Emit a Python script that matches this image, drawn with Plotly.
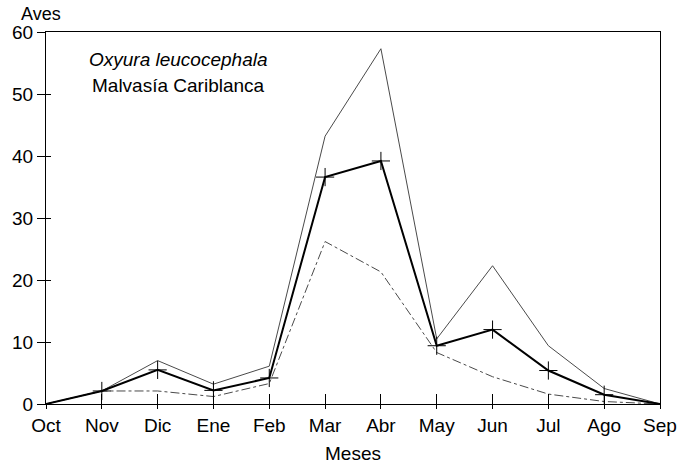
import plotly.graph_objects as go

months = ["Oct", "Nov", "Dic", "Ene", "Feb", "Mar", "Abr", "May", "Jun", "Jul", "Ago", "Sep"]
maximo = [0, 2.1, 7.0, 3.2, 6.1, 43.2, 57.3, 10.5, 22.3, 9.4, 2.5, 0]
media = [0, 2.1, 5.5, 2.2, 4.2, 36.6, 39.2, 9.4, 12.0, 5.4, 1.5, 0]
minimo = [0, 2.1, 2.1, 1.2, 3.3, 26.2, 21.3, 8.3, 4.4, 1.6, 0.4, 0]
y_ticks = [0, 10, 20, 30, 40, 50, 60]

x = list(range(len(months)))
FONT = "Liberation Sans, Arial, sans-serif"

fig = go.Figure()
fig.add_trace(go.Scatter(x=x, y=maximo, mode="lines",
                         line=dict(color="#4a4a4a", width=1), showlegend=False))
fig.add_trace(go.Scatter(x=x, y=minimo, mode="lines",
                         line=dict(color="#4a4a4a", width=1, dash="dashdot"), showlegend=False))
fig.add_trace(go.Scatter(x=x[1:-1], y=media[1:-1], mode="markers",
                         marker=dict(symbol="cross-thin", size=13,
                                     line=dict(color="black", width=1)),
                         showlegend=False))
fig.add_trace(go.Scatter(x=x, y=media, mode="lines",
                         line=dict(color="black", width=2), showlegend=False))
# invisible trace for the overlay axes (inner tick halves)
fig.add_trace(go.Scatter(x=[0], y=[0], xaxis="x2", yaxis="y2", mode="markers",
                         marker=dict(opacity=0), showlegend=False, hoverinfo="skip"))

fig.update_layout(
    width=679, height=464,
    margin=dict(l=46, r=19, t=32, b=60, autoexpand=False),
    paper_bgcolor="white", plot_bgcolor="white",
    font=dict(family=FONT, size=19, color="black"),
    xaxis=dict(range=[0, 11], tickmode="array", tickvals=x, ticktext=months,
               showgrid=False, zeroline=False, showline=True, mirror=True,
               linecolor="black", linewidth=1, ticks="outside", ticklen=4,
               tickcolor="black", tickfont=dict(size=19),
               title=dict(text="Meses", font=dict(size=19), standoff=12)),
    yaxis=dict(range=[0, 60], tickmode="array", tickvals=y_ticks,
               showgrid=False, zeroline=False, showline=True, mirror=True,
               linecolor="black", linewidth=1, ticks="outside", ticklen=8,
               tickcolor="black", tickfont=dict(size=19)),
    xaxis2=dict(range=[0, 11], overlaying="x", tickmode="array", tickvals=x,
                showticklabels=False, showgrid=False, zeroline=False,
                ticks="inside", ticklen=10, tickcolor="black", side="bottom"),
    yaxis2=dict(range=[0, 60], overlaying="y", tickmode="array", tickvals=y_ticks,
                showticklabels=False, showgrid=False, zeroline=False,
                ticks="inside", ticklen=5, tickcolor="black", side="left"),
    annotations=[
        dict(text="Aves", xref="paper", yref="paper", x=-0.008, y=1.048,
             xanchor="center", yanchor="middle", showarrow=False, font=dict(size=18)),
        dict(text="<i>Oxyura leucocephala</i>", xref="paper", yref="paper",
             x=0.215, y=0.925, xanchor="center", yanchor="middle",
             showarrow=False, font=dict(size=19)),
        dict(text="Malvasía Cariblanca", xref="paper", yref="paper",
             x=0.215, y=0.855, xanchor="center", yanchor="middle",
             showarrow=False, font=dict(size=19)),
    ],
)

fig.write_html(
    "out.html",
    config={"displayModeBar": False},
    post_script="document.body.style.margin='0';document.body.style.overflow='hidden';",
)
